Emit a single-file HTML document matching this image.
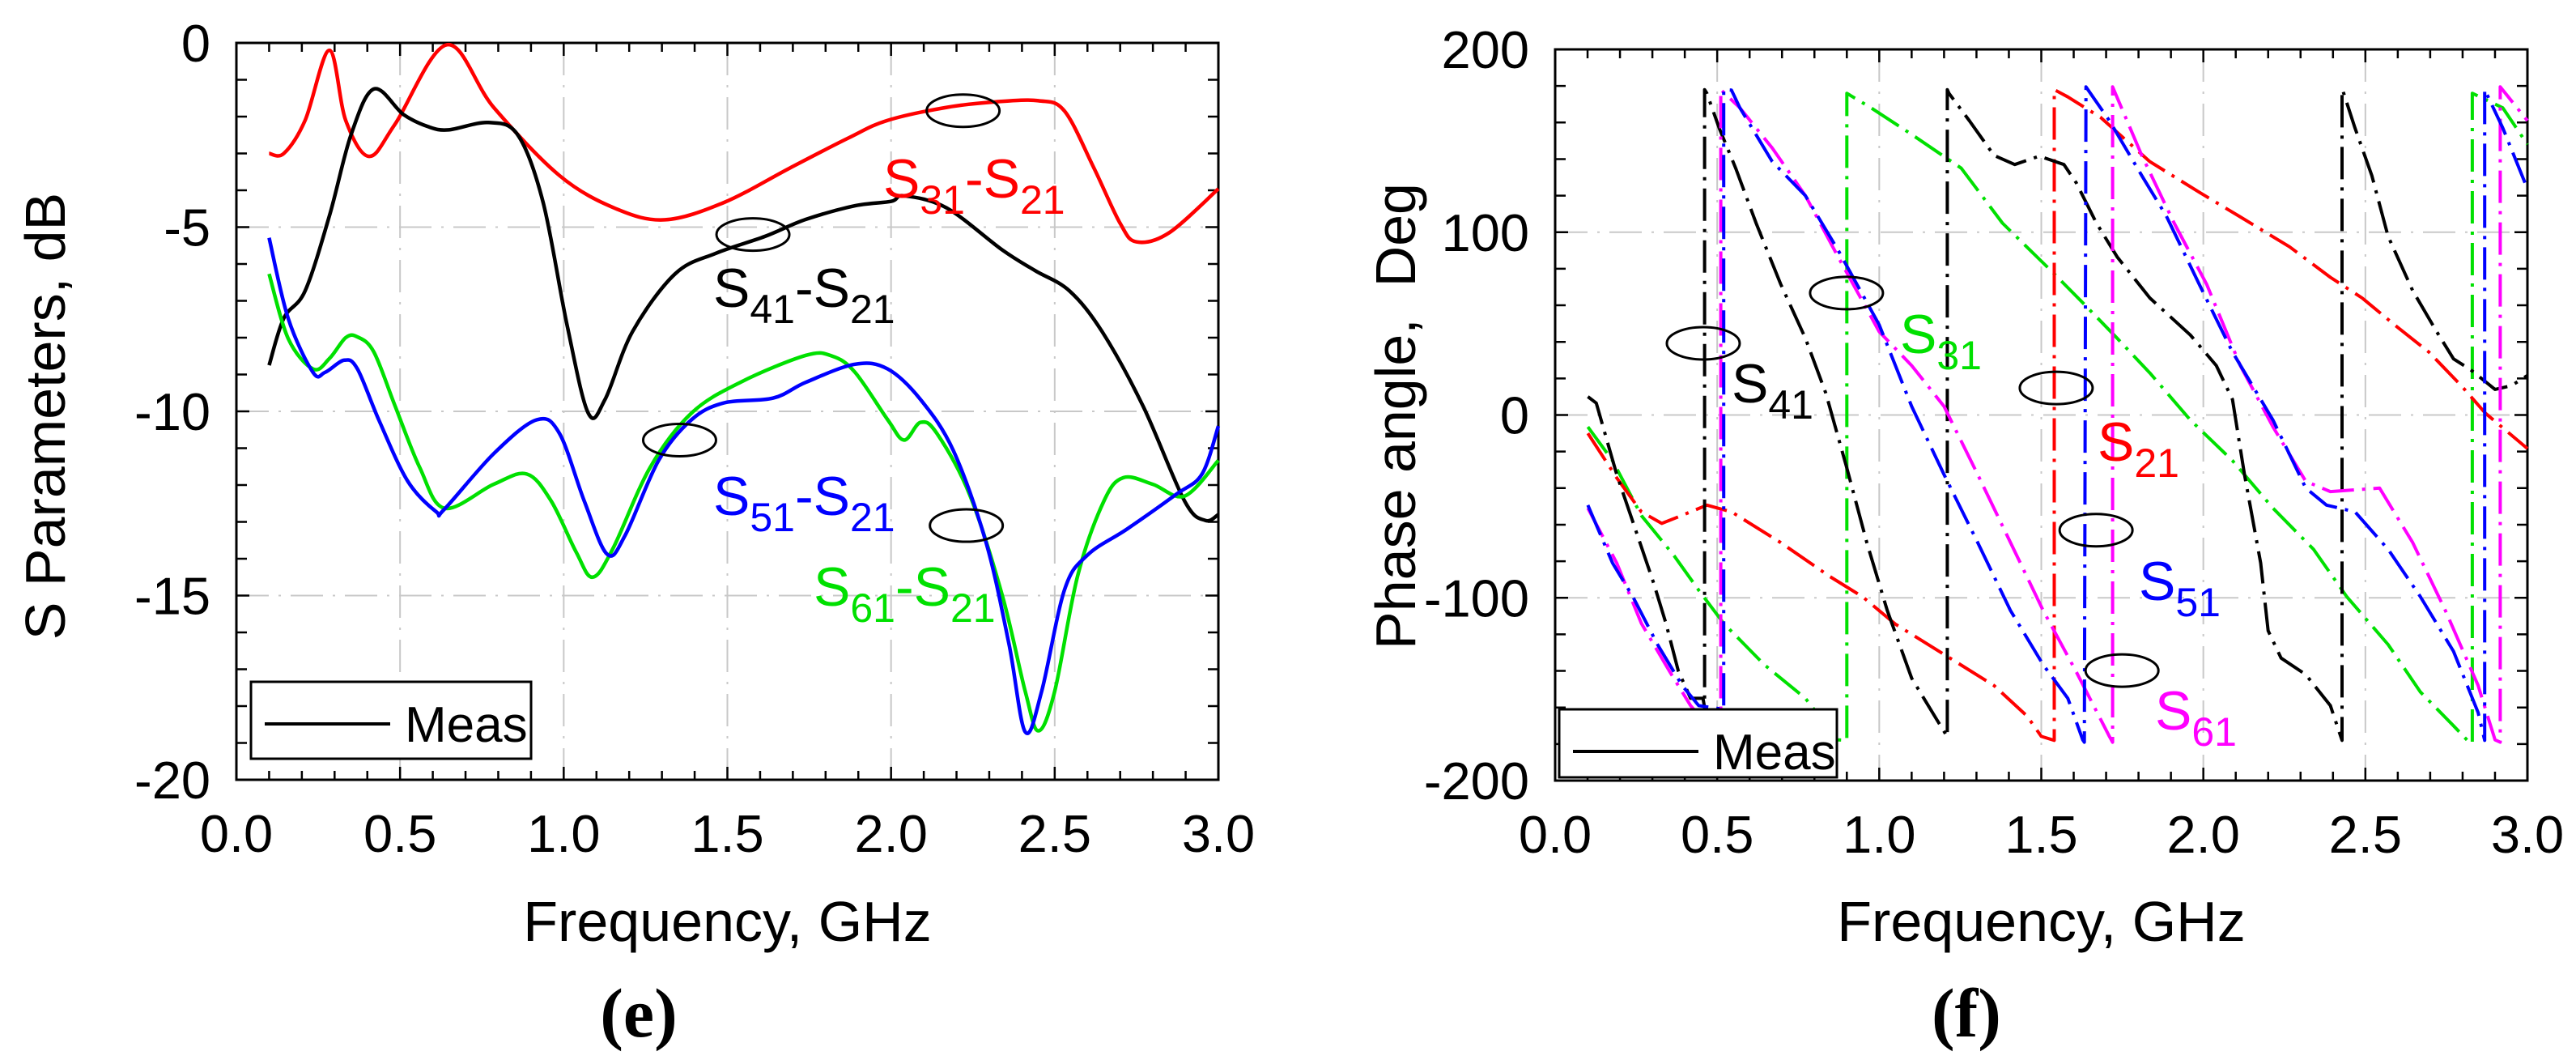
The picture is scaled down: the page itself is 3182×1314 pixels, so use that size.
<!DOCTYPE html>
<html><head><meta charset="utf-8"><style>
html,body{margin:0;padding:0;background:#fff;}
svg{display:block;font-family:"Liberation Sans",sans-serif;}
</style></head><body>
<svg id="fig" width="3182" height="1314" viewBox="0 0 3182 1314" xmlns="http://www.w3.org/2000/svg">
<rect width="3182" height="1314" fill="#fff"/>
<g id="left"></g>
<g id="right"></g>
</svg>
<script>
// ---- Left chart data (frequency GHz, dB) ----
const s31F = [0.1,0.145,0.21,0.284,0.334,0.405,0.485,0.643,0.786,0.987,1.16,1.31,1.49,1.69,1.87,1.99,2.17,2.32,2.45,2.53,2.62,2.70,2.75,2.85,3.0];
const s31V = [-3.0,-3.0,-2.1,-0.2,-2.1,-3.08,-2.2,-0.05,-1.75,-3.6,-4.5,-4.8,-4.33,-3.4,-2.58,-2.1,-1.75,-1.6,-1.57,-1.85,-3.4,-4.9,-5.4,-5.15,-3.96];
const s41F = [0.1,0.145,0.21,0.284,0.35,0.42,0.51,0.585,0.648,0.77,0.86,0.937,1.01,1.075,1.126,1.21,1.34,1.465,1.615,1.74,1.89,2.0,2.04,2.17,2.34,2.44,2.545,2.645,2.77,2.897,2.96,3.0];
const s41V = [-8.75,-7.47,-6.73,-4.7,-2.5,-1.25,-1.94,-2.27,-2.36,-2.16,-2.5,-4.33,-7.65,-10.05,-9.68,-7.84,-6.27,-5.71,-5.25,-4.79,-4.42,-4.3,-4.15,-4.48,-5.62,-6.18,-6.73,-7.84,-9.86,-12.44,-12.96,-12.8];
const s51F = [0.1,0.158,0.234,0.271,0.33,0.37,0.435,0.523,0.61,0.635,0.786,0.917,0.987,1.063,1.133,1.188,1.29,1.39,1.49,1.64,1.74,1.89,1.99,2.09,2.19,2.29,2.36,2.41,2.46,2.53,2.6,2.72,2.87,2.95,3.0];
const s51V = [-5.29,-7.47,-8.94,-8.94,-8.61,-8.85,-10.23,-11.89,-12.72,-12.66,-11.15,-10.23,-10.6,-12.44,-13.88,-13.36,-11.33,-10.23,-9.77,-9.64,-9.21,-8.72,-8.85,-9.68,-11.06,-13.55,-16.3,-18.7,-17.6,-14.84,-13.9,-13.2,-12.26,-11.7,-10.4];
const s61F = [0.1,0.158,0.234,0.284,0.334,0.37,0.42,0.485,0.56,0.636,0.786,0.887,0.962,1.038,1.088,1.15,1.264,1.39,1.54,1.74,1.82,1.89,1.99,2.04,2.09,2.14,2.24,2.34,2.41,2.45,2.5,2.57,2.65,2.71,2.8,2.897,3.0];
const s61V = [-6.27,-8.02,-8.85,-8.57,-8.0,-7.98,-8.39,-9.86,-11.52,-12.63,-11.98,-11.7,-12.44,-13.82,-14.5,-13.73,-11.52,-10.05,-9.21,-8.48,-8.5,-8.94,-10.23,-10.78,-10.3,-10.6,-12.26,-15.0,-17.6,-18.67,-17.6,-14.47,-12.44,-11.8,-11.98,-12.3,-11.33];
const leftXTicks = ["0.0","0.5","1.0","1.5","2.0","2.5","3.0"];
const leftYTicks = ["0","-5","-10","-15","-20"];

// ---- Right chart data (frequency GHz, degrees) ----
const p41F = [0.101,0.127,0.19,0.24,0.304,0.342,0.38,0.418,0.456,0.461,0.461,0.468,0.506,0.557,0.62,0.696,0.772,0.835,0.9,0.962,1.025,1.1,1.177,1.21,1.21,1.215,1.278,1.354,1.418,1.494,1.57,1.608,1.67,1.734,1.835,1.96,2.04,2.09,2.127,2.177,2.2,2.24,2.316,2.392,2.428,2.428,2.43,2.468,2.52,2.57,2.646,2.72,2.772,2.823,2.9,2.95,3.0];
const p41V = [10,6.5,-32.6,-58.6,-92,-114,-140,-155,-155,-160,178,176,157,135,105,71.6,42,12,-29,-70,-107,-144,-166.5,-176,178,176,161,142,137,141.6,137,127,105,86.5,64,43.7,27,8.4,-32.6,-81,-118,-133,-142,-159,-178,178,177.7,157,131,97.7,68,45.6,30.7,25,14,16,21.6];
const p21F = [0.101,0.19,0.266,0.329,0.392,0.468,0.544,0.696,0.848,0.949,1.05,1.2,1.354,1.456,1.5,1.54,1.54,1.582,1.683,1.835,1.987,2.11,2.266,2.392,2.49,2.59,2.696,2.797,2.87,3.0];
const p21V = [-10,-34.4,-53,-59.3,-54.9,-49.3,-53,-69.8,-88.4,-99.5,-114.4,-131,-148,-164.7,-175.8,-178,178,174,162.8,138.6,121.9,108.8,92,75.3,64,49.3,34.4,15.8,1,-18.4];
const p31F = [0.101,0.177,0.266,0.367,0.443,0.52,0.646,0.772,0.873,0.9,0.9,0.975,1.1,1.253,1.38,1.53,1.633,1.734,1.835,1.96,2.09,2.215,2.34,2.443,2.57,2.67,2.772,2.823,2.83,2.83,2.924,3.0];
const p31V = [-6.5,-25,-55,-77,-95.8,-114,-136.7,-155,-177.7,-178,176,168,153.5,135,105,79,60.5,42,23,-2.8,-25,-51,-73.5,-99.5,-125.6,-151.6,-170,-179.5,-179.5,176,168,148];
const p51F = [0.101,0.177,0.24,0.316,0.392,0.443,0.52,0.52,0.544,0.57,0.67,0.772,0.873,1.0,1.1,1.2,1.304,1.405,1.506,1.582,1.628,1.633,1.638,1.71,1.81,1.886,1.987,2.09,2.215,2.316,2.38,2.468,2.57,2.67,2.772,2.848,2.868,2.868,2.924,3.0];
const p51V = [-49.3,-81,-99.5,-125.6,-148,-159,-161,178,177.7,168,138.6,120,90.2,49.3,4.7,-32.6,-69.8,-107,-136.7,-155,-177.7,-179,179.5,161,131,108.8,71.6,34.4,-2.8,-40,-49.3,-53,-73.5,-99.5,-129.3,-162.8,-178,178,157,123.7];
const p61F = [0.101,0.19,0.266,0.354,0.418,0.5,0.511,0.511,0.57,0.67,0.772,0.873,1.0,1.1,1.2,1.304,1.405,1.506,1.608,1.71,1.72,1.72,1.81,1.91,2.01,2.114,2.215,2.316,2.392,2.544,2.646,2.747,2.848,2.9,2.916,2.916,3.0];
const p61V = [-51,-81,-114,-140.5,-159,-175.8,-178,178,168,146,120,86.5,45.6,27,4.7,-32.6,-69.8,-107,-140.5,-175.8,-179,179.5,142,105,71.6,27,-6.5,-36.3,-41.9,-40,-69.8,-107,-148,-177.7,-179,179.5,161];
const rightXTicks = ["0.0","0.5","1.0","1.5","2.0","2.5","3.0"];
const rightYTicks = ["200","100","0","-100","-200"];

const NS = "http://www.w3.org/2000/svg";
function mk(parent, tag, attrs, text){
  const e = document.createElementNS(NS, tag);
  for (const k in attrs) e.setAttribute(k, attrs[k]);
  if (text !== undefined) e.textContent = text;
  parent.appendChild(e);
  return e;
}

function drawFrame(g, ax, xTicks, yTicks, yMinorStep, yMajorStep){
  const {L,R,T,B,x,y,ymin,ymax} = ax;
  for (let i=1;i<xTicks.length-1;i++){
    const gl = mk(g,'line',{x1:x(parseFloat(xTicks[i])),x2:x(parseFloat(xTicks[i])),y1:T,y2:B,stroke:'#c8c8c8','stroke-width':2,'stroke-dasharray':'40,12,3,12'});
    
    
  }
  for (let i=1;i<yTicks.length-1;i++){
    const gl = mk(g,'line',{x1:L,x2:R,y1:y(parseFloat(yTicks[i])),y2:y(parseFloat(yTicks[i])),stroke:'#c8c8c8','stroke-width':2,'stroke-dasharray':'40,12,3,12'});
    
    
  }
  let p = '';
  for (let k=0;k<=30;k++){
    const xx = x(k/10), len = (k%5===0)?16:11;
    p += `M${xx},${T}v${len}M${xx},${B}v${-len}`;
  }
  const nY = Math.round((ymax-ymin)/yMinorStep);
  for (let k=0;k<=nY;k++){
    const v = ymin + k*yMinorStep;
    const yy = y(v), len = (Math.abs(v % yMajorStep)<1e-6)?16:13;
    p += `M${L},${yy}h${len}M${R},${yy}h${-len}`;
  }
  const tk = mk(g,'path',{d:p,stroke:'#000','stroke-width':2.5,fill:'none'});
  
  
  const fr = mk(g,'rect',{x:L,y:T,width:R-L,height:B-T,fill:'none',stroke:'#000','stroke-width':3});
  
  
  xTicks.forEach(t=>{
    const tl = mk(g,'text',{x:x(parseFloat(t)),y:B+89,'font-size':65,'text-anchor':'middle',fill:'#000'},t);
    
    
  });
  yTicks.forEach(t=>{
    const tl = mk(g,'text',{x:L-32,y:y(parseFloat(t))+23,'font-size':65,'text-anchor':'end',fill:'#000'},t);
    
    
  });
}

function series(g, ax, F, V, color, dash, name, smooth){
  const P = F.map((f,i)=>[ax.x(f), ax.y(V[i])]);
  let d = 'M' + P[0][0].toFixed(1) + ',' + P[0][1].toFixed(1);
  for (let i=0;i<P.length-1;i++){
    if (smooth){
      const p0 = P[Math.max(0,i-1)], p1 = P[i], p2 = P[i+1], p3 = P[Math.min(P.length-1,i+2)];
      const c1 = [p1[0]+(p2[0]-p0[0])/6, p1[1]+(p2[1]-p0[1])/6];
      const c2 = [p2[0]-(p3[0]-p1[0])/6, p2[1]-(p3[1]-p1[1])/6];
      d += `C${c1[0].toFixed(1)},${c1[1].toFixed(1)} ${c2[0].toFixed(1)},${c2[1].toFixed(1)} ${p2[0].toFixed(1)},${p2[1].toFixed(1)}`;
    } else {
      d += 'L' + P[i+1][0].toFixed(1) + ',' + P[i+1][1].toFixed(1);
    }
  }
  const attrs = {d:d,fill:'none',stroke:color,'stroke-width':dash?4:4.5,'stroke-linejoin':'round'};
  if (dash) attrs['stroke-dasharray'] = dash;
  const pth = mk(g,'path',attrs);
  
  
}

function label(g, xx, yy, main, sub, rest, color, name){
  const t = mk(g,'text',{x:xx,y:yy,'font-size':68,fill:color});
  
  
  mk(t,'tspan',{},main);
  mk(t,'tspan',{dy:20,'font-size':50},sub);
  if (rest){
    mk(t,'tspan',{dy:-20},'-S');
    mk(t,'tspan',{dy:20,'font-size':50},rest);
  }
}

function ellipse(g, cx, cy, name){
  const e = mk(g,'ellipse',{cx:cx,cy:cy,rx:45,ry:20,fill:'none',stroke:'#000','stroke-width':3});
  
  
}

function legend(g, bx, by, bw, bh){
  const lg = mk(g,'g',{});
  
  
  mk(lg,'rect',{x:bx,y:by,width:bw,height:bh,fill:'#fff',stroke:'#000','stroke-width':3});
  const ln = mk(lg,'line',{x1:bx+17,x2:bx+172,y1:by+52,y2:by+52,stroke:'#000','stroke-width':4});
  
  
  const lt = mk(lg,'text',{x:bx+190,y:by+74,'font-size':62,fill:'#000'},'Meas');
  
  
}

// ===== Left chart =====
(function(){
  const g = document.getElementById('left');
  const L=292,R=1505,T=53,B=963,ymin=-20,ymax=0;
  const ax = {L,R,T,B,ymin,ymax,x:f=>L+(R-L)*f/3,y:v=>T+(B-T)*(ymax-v)/(ymax-ymin)};
  drawFrame(g, ax, leftXTicks, leftYTicks, 1, 5);
  series(g, ax, s31F, s31V, '#ff0000', null, 's31-s21-line', true);
  series(g, ax, s41F, s41V, '#000000', null, 's41-s21-line', true);
  series(g, ax, s61F, s61V, '#00e000', null, 's61-s21-line', true);
  series(g, ax, s51F, s51V, '#0000ff', null, 's51-s21-line', true);
  ellipse(g, ax.x(2.22), ax.y(-1.84), 'annotation-ellipse');
  ellipse(g, ax.x(1.578), ax.y(-5.2), 'annotation-ellipse');
  ellipse(g, ax.x(1.354), ax.y(-10.78), 'annotation-ellipse');
  ellipse(g, ax.x(2.23), ax.y(-13.1), 'annotation-ellipse');
  label(g, 1091, 244, 'S', '31', '21', '#ff0000', 's31-s21-label');
  label(g, 881, 379, 'S', '41', '21', '#000000', 's41-s21-label');
  label(g, 881, 636, 'S', '51', '21', '#0000ff', 's51-s21-label');
  label(g, 1005, 748, 'S', '61', '21', '#00e000', 's61-s21-label');
  legend(g, 310, 842, 346, 95);
  const xt = mk(g,'text',{x:(L+R)/2,y:1162,'font-size':70,'text-anchor':'middle',fill:'#000'},'Frequency, GHz');
  
  
  const yt = mk(g,'text',{x:0,y:0,'font-size':70,'text-anchor':'middle',fill:'#000',transform:'translate(80,514) rotate(-90)'},'S Parameters, dB');
  
  
  const cap = mk(g,'text',{x:789,y:1280,'font-size':86,'font-weight':'bold','text-anchor':'middle','font-family':'Liberation Serif, serif',fill:'#000'},'(e)');
  
  
})();

// ===== Right chart =====
(function(){
  const g = document.getElementById('right');
  const L=1921,R=3122,T=61,B=964,ymin=-200,ymax=200;
  const ax = {L,R,T,B,ymin,ymax,x:f=>L+(R-L)*f/3,y:v=>T+(B-T)*(ymax-v)/(ymax-ymin)};
  drawFrame(g, ax, rightXTicks, rightYTicks, 20, 100);
  const dd = '40,10,4,10';
  series(g, ax, p31F, p31V, '#00e000', dd, 's31-phase-line', false);
  series(g, ax, p21F, p21V, '#ff0000', dd, 's21-phase-line', false);
  series(g, ax, p41F, p41V, '#000000', dd, 's41-phase-line', false);
  series(g, ax, p61F, p61V, '#ff00ff', dd, 's61-phase-line', false);
  series(g, ax, p51F, p51V, '#0000ff', dd, 's51-phase-line', false);
  ellipse(g, ax.x(0.457), ax.y(39.2), 'annotation-ellipse');
  ellipse(g, ax.x(0.899), ax.y(66.7), 'annotation-ellipse');
  ellipse(g, ax.x(1.546), ax.y(14.8), 'annotation-ellipse');
  ellipse(g, ax.x(1.669), ax.y(-63), 'annotation-ellipse');
  ellipse(g, ax.x(1.749), ax.y(-139.8), 'annotation-ellipse');
  label(g, 2139, 497, 'S', '41', null, '#000000', 's41-label');
  label(g, 2347, 436, 'S', '31', null, '#00e000', 's31-label');
  label(g, 2591, 569, 'S', '21', null, '#ff0000', 's21-label');
  label(g, 2642, 741, 'S', '51', null, '#0000ff', 's51-label');
  label(g, 2662, 901, 'S', '61', null, '#ff00ff', 's61-label');
  legend(g, 1926, 876, 343, 84);
  const xt = mk(g,'text',{x:(L+R)/2,y:1162,'font-size':70,'text-anchor':'middle',fill:'#000'},'Frequency, GHz');
  
  
  const yt = mk(g,'text',{x:0,y:0,'font-size':70,'text-anchor':'middle',fill:'#000',transform:'translate(1748,514) rotate(-90)'},'Phase angle,\u00a0\u00a0Deg');
  
  
  const cap = mk(g,'text',{x:2429,y:1280,'font-size':86,'font-weight':'bold','text-anchor':'middle','font-family':'Liberation Serif, serif',fill:'#000'},'(f)');
  
  
})();
</script>
</body></html>
